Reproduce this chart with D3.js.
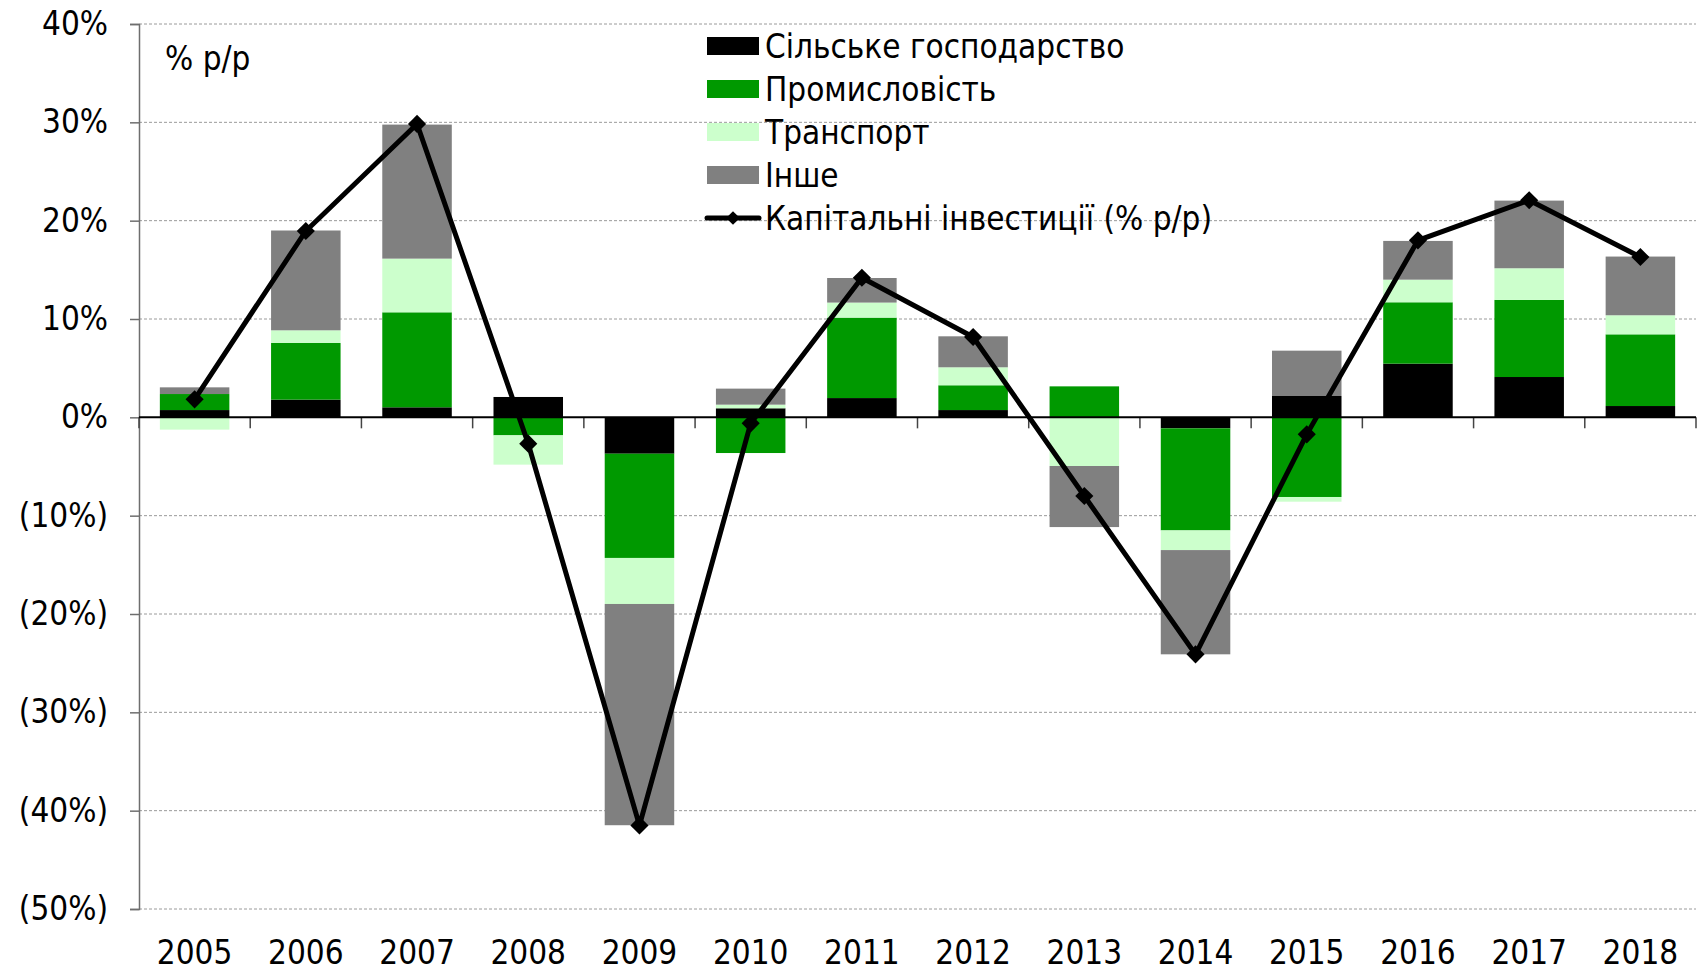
<!DOCTYPE html>
<html>
<head>
<meta charset="utf-8">
<script src="https://cdn.jsdelivr.net/npm/d3@7"></script>
<style>
  body { margin: 0; background: #fff; }
  text { font-family: "DejaVu Sans Condensed", "DejaVu Sans", sans-serif; fill: #000; }
</style>
</head>
<body>
<div id="chart"></div>
<script>
// chart data
var years = ["2005","2006","2007","2008","2009","2010","2011","2012","2013","2014","2015","2016","2017","2018"];
var agriculture = [0.74, 1.8, 1.02, 2.07, -3.7, 0.92, 1.96, 0.74, 0, -1.12, 2.17, 5.46, 4.1, 1.15];
var industry    = [1.63, 5.76, 9.66, -1.83, -10.6, -3.63, 8.18, 2.52, 3.15, -10.38, -8.1, 6.24, 7.84, 7.29];
var transport   = [-1.25, 1.29, 5.46, -2.98, -4.68, 0.37, 1.53, 1.83, -4.95, -2.0, -0.48, 2.3, 3.22, 1.94];
var other       = [0.68, 10.15, 13.63, 0, -22.5, 1.63, 2.5, 3.15, -6.21, -10.6, 4.61, 3.94, 6.88, 5.97];
var capex       = [1.83, 18.95, 29.84, -2.68, -41.5, -0.61, 14.2, 8.17, -8.0, -24.1, -1.73, 18.0, 22.08, 16.3];
var yTicks = [40, 30, 20, 10, 0, -10, -20, -30, -40, -50];

var seriesNames = ["Сільське господарство", "Промисловість", "Транспорт", "Інше"];
var lineName = "Капітальні інвестиції (% р/р)";
var colors = ["#000000", "#009900", "#ccffcc", "#808080"];

var width = 1705, height = 971;
var margin = {top: 24, right: 9, bottom: 62, left: 139};

var svg = d3.select("#chart").append("svg")
	.attr("width", width)
	.attr("height", height);

var x = d3.scaleBand()
	.domain(years)
	.range([margin.left, width - margin.right])
	.paddingInner(0.375)
	.paddingOuter(0.1875);

var y = d3.scaleLinear()
	.domain([-50, 40])
	.range([height - margin.bottom, margin.top]);

function fmt(v) {
	return v < 0 ? "(" + Math.abs(v) + "%)" : v + "%";
}

// gridlines
svg.append("g")
	.selectAll("line")
	.data(yTicks.filter(d => d != 0))
	.enter().append("line")
	.attr("x1", margin.left)
	.attr("x2", width - margin.right)
	.attr("y1", d => y(d))
	.attr("y2", d => y(d))
	.attr("stroke", "#9a9a9a")
	.attr("stroke-width", 1)
	.attr("stroke-dasharray", "3,2");

// y axis
var yAxis = svg.append("g")
	.attr("transform", "translate(" + margin.left + ",0)")
	.call(d3.axisLeft(y).tickValues(yTicks).tickFormat(fmt).tickSize(9).tickPadding(22));
yAxis.select(".domain").attr("stroke", "#6e6e6e").attr("stroke-width", 1.5);
yAxis.selectAll(".tick line").attr("stroke", "#6e6e6e").attr("stroke-width", 1.5);
yAxis.selectAll(".tick text").style("font-size", "33px").attr("fill", "#000");

// stacked bars
var rows = years.map(function(yr, i) {
	return {year: yr, 0: agriculture[i], 1: industry[i], 2: transport[i], 3: other[i]};
});
var stack = d3.stack()
	.keys([0, 1, 2, 3])
	.offset(d3.stackOffsetDiverging);
var layers = stack(rows);

svg.append("g")
	.selectAll("g")
	.data(layers)
	.enter().append("g")
	.attr("fill", d => colors[d.key])
	.selectAll("rect")
	.data(d => d)
	.enter().append("rect")
	.attr("x", d => x(d.data.year))
	.attr("width", x.bandwidth())
	.attr("y", d => y(Math.max(d[0], d[1])))
	.attr("height", d => Math.abs(y(d[0]) - y(d[1])));

// zero line and category ticks
var step = x.step();
svg.append("g")
	.selectAll("line")
	.data(d3.range(years.length + 1))
	.enter().append("line")
	.attr("x1", d => margin.left + d * step)
	.attr("x2", d => margin.left + d * step)
	.attr("y1", y(0))
	.attr("y2", y(0) + 11)
	.attr("stroke", "#444")
	.attr("stroke-width", 1.5);

svg.append("line")
	.attr("x1", margin.left)
	.attr("x2", width - margin.right)
	.attr("y1", y(0))
	.attr("y2", y(0))
	.attr("stroke", "#000")
	.attr("stroke-width", 2);

// year labels
svg.append("g")
	.selectAll("text")
	.data(years)
	.enter().append("text")
	.attr("x", d => x(d) + x.bandwidth() / 2)
	.attr("y", 964)
	.attr("text-anchor", "middle")
	.style("font-size", "33px")
	.text(d => d);

// capital investment line
var line = d3.line()
	.x((d, i) => x(years[i]) + x.bandwidth() / 2)
	.y(d => y(d));

svg.append("path")
	.datum(capex)
	.attr("d", line)
	.attr("fill", "none")
	.attr("stroke", "#000")
	.attr("stroke-width", 5)
	.attr("stroke-linejoin", "miter");

var diamond = d3.symbol().type(d3.symbolDiamond2).size(210);
svg.append("g")
	.selectAll("path")
	.data(capex)
	.enter().append("path")
	.attr("d", diamond)
	.attr("transform", (d, i) => "translate(" + (x(years[i]) + x.bandwidth() / 2) + "," + y(d) + ")")
	.attr("fill", "#000");

// unit label
svg.append("text")
	.attr("x", 165)
	.attr("y", 70)
	.style("font-size", "33px")
	.text("% р/р");

// legend
var legend = svg.append("g").attr("transform", "translate(707,46)");
var rowH = 43;
seriesNames.forEach(function(name, i) {
	legend.append("rect")
		.attr("x", 0)
		.attr("y", i * rowH - 9)
		.attr("width", 52)
		.attr("height", 18)
		.attr("fill", colors[i]);
	legend.append("text")
		.attr("x", 58)
		.attr("y", i * rowH)
		.attr("dy", "0.35em")
		.style("font-size", "33px")
		.text(name);
});
legend.append("line")
	.attr("x1", 0).attr("x2", 52)
	.attr("y1", 4 * rowH).attr("y2", 4 * rowH)
	.attr("stroke", "#000")
	.attr("stroke-width", 5)
	.attr("stroke-linecap", "round");
legend.append("path")
	.attr("d", d3.symbol().type(d3.symbolDiamond2).size(120))
	.attr("transform", "translate(26," + (4 * rowH) + ")");
legend.append("text")
	.attr("x", 58)
	.attr("y", 4 * rowH)
	.attr("dy", "0.35em")
	.style("font-size", "33px")
	.text(lineName);
</script>
</body>
</html>
